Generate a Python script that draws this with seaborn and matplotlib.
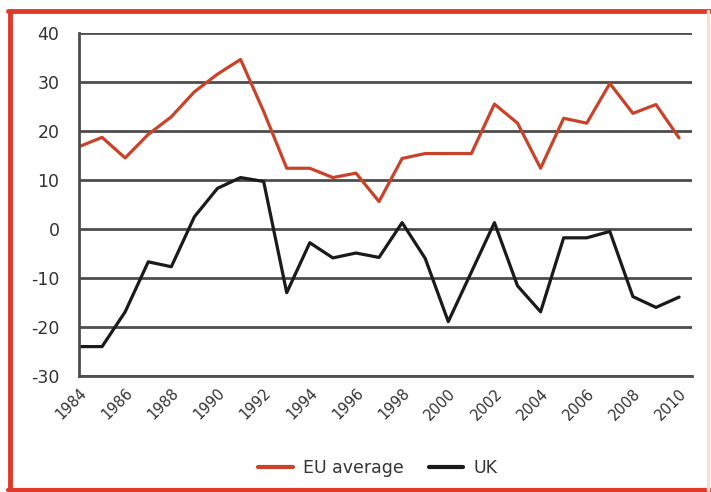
import numpy as np
import pandas as pd
import matplotlib
matplotlib.use("Agg")
import matplotlib.pyplot as plt
from matplotlib.lines import Line2D
import seaborn as sns

years = list(range(1984, 2011))
eu_average = [16.8, 18.7, 14.5, 19.3, 22.9, 28.0, 31.6, 34.6, 24.0, 12.4,
              12.4, 10.5, 11.4, 5.6, 14.4, 15.4, 15.4, 15.4, 25.5, 21.6,
              12.4, 22.6, 21.6, 29.7, 23.6, 25.4, 18.6]
uk = [-24.0, -24.0, -16.9, -6.7, -7.7, 2.5, 8.3, 10.5, 9.7, -13.0,
      -2.8, -5.9, -4.9, -5.8, 1.3, -6.0, -18.9, -8.8, 1.3, -11.6,
      -16.9, -1.8, -1.8, -0.5, -13.8, -16.0, -13.9]
y_ticks = [-30, -20, -10, 0, 10, 20, 30, 40]
x_ticks = list(range(1984, 2011, 2))

df = pd.DataFrame({
    "year": years * 2,
    "value": eu_average + uk,
    "series": ["EU average"] * len(years) + ["UK"] * len(years),
})

sns.set_theme(style="white")
plt.rcParams['font.family'] = ['DejaVu Sans']
plt.rcParams['axes.unicode_minus'] = False

fig = plt.figure(figsize=(7.11, 4.92), dpi=100)
ax = fig.add_axes([79 / 711, 1 - 376 / 492, (692 - 79) / 711, (376 - 33) / 492])

sns.lineplot(data=df, x="year", y="value", hue="series",
             palette={"EU average": "#c9432b", "UK": "#1a1a1a"},
             linewidth=2.3, ax=ax, legend=True)

ax.set_xlim(1984, 2010.56)
ax.set_ylim(-30, 40)
ax.set_yticks(y_ticks)
ax.set_yticklabels([str(t) for t in y_ticks])
ax.set_xticks(x_ticks)
ax.set_xticklabels([str(t) for t in x_ticks], rotation=45, ha="right",
                   rotation_mode="anchor")
ax.tick_params(axis="both", length=0, colors="#333333")
ax.tick_params(axis="x", pad=7, labelsize=10.5)
ax.tick_params(axis="y", pad=14, labelsize=12.5)
ax.set_xlabel("")
ax.set_ylabel("")

for t in y_ticks:
    ax.axhline(t, color="#4d4d4d", linewidth=2.0, zorder=0)

for side in ["top", "right"]:
    ax.spines[side].set_visible(False)
ax.spines["left"].set_color("#4d4d4d")
ax.spines["left"].set_linewidth(2.0)
ax.spines["bottom"].set_color("#4d4d4d")
ax.spines["bottom"].set_linewidth(2.0)

sns.move_legend(ax, "center", bbox_to_anchor=(378 / 711, 1 - 468 / 492),
                bbox_transform=fig.transFigure, ncol=2, frameon=False,
                title=None, fontsize=12.5, handlelength=2.0,
                columnspacing=1.4, handletextpad=0.6)
leg = ax.get_legend()
for h in leg.get_lines():
    h.set_linewidth(3)
for txt in leg.get_texts():
    txt.set_color("#333333")

# red frame round the figure
red = "#e0392a"
fig.add_artist(Line2D([10 / 711, 10 / 711], [1 - 11 / 492, 1 - 490 / 492],
                      color=red, linewidth=3.5, transform=fig.transFigure))
fig.add_artist(Line2D([8 / 711, 711 / 711], [1 - 11 / 492, 1 - 11 / 492],
                      color=red, linewidth=3.5, transform=fig.transFigure))
fig.add_artist(Line2D([8 / 711, 711 / 711], [1 - 490 / 492, 1 - 490 / 492],
                      color=red, linewidth=3.0, transform=fig.transFigure))
fig.add_artist(Line2D([708 / 711, 708 / 711], [1 - 11 / 492, 1 - 490 / 492],
                      color="#f9dcd2", linewidth=2.5, transform=fig.transFigure))

fig.savefig("out.png", dpi=100)
